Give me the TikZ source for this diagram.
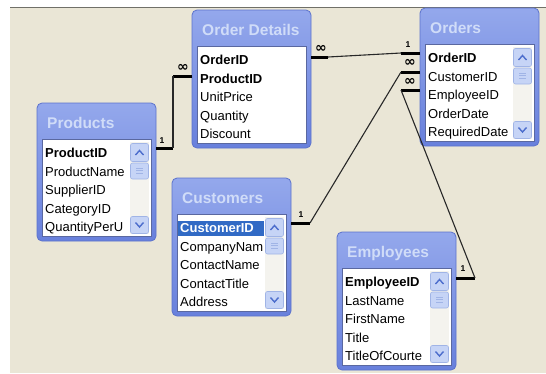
\documentclass[tikz,border=0pt]{standalone}
\usepackage{fontspec}
\usetikzlibrary{calc}
\setmainfont{Liberation Sans}
\newfontfamily\symfont{DejaVu Sans}
\definecolor{bgbeige}{RGB}{234,230,214}
\definecolor{topline}{RGB}{112,112,104}
\definecolor{boxtop}{RGB}{148,168,236}
\definecolor{boxbot}{RGB}{104,128,220}
\definecolor{boxedge}{RGB}{92,114,204}
\definecolor{listedge}{RGB}{90,104,160}
\definecolor{titletxt}{RGB}{208,220,248}
\definecolor{selblue}{RGB}{49,106,197}
\definecolor{sbbtnc}{RGB}{198,212,246}
\definecolor{sbedge}{RGB}{160,180,230}
\definecolor{sbtrackc}{RGB}{244,243,238}
\definecolor{chevc}{RGB}{77,110,205}
\definecolor{linegrey}{RGB}{40,40,40}
\tikzset{
  tblbox/.style={draw=boxedge, line width=0.8pt, rounded corners=5pt,
    top color=boxtop, bottom color=boxbot,
    minimum width=119pt, minimum height=138pt, inner sep=0pt},
  tbllist/.style={fill=white, draw=listedge, line width=0.8pt,
    minimum width=109pt, minimum height=97pt, inner sep=0pt},
  tbltitle/.style={text=titletxt, font=\fontsize{15.5}{17}\selectfont\bfseries,
    anchor=west, inner sep=0pt, text height=11.5pt, text depth=3.5pt},
  fld/.style={font=\fontsize{13}{15}\selectfont, anchor=west, inner sep=0pt,
    text=black, text height=9.5pt, text depth=3pt},
  keyfld/.style={fld, font=\fontsize{13}{15}\selectfont\bfseries},
  selfld/.style={keyfld, text=white},
  selbg/.style={fill=selblue, minimum width=86pt, minimum height=15pt, inner sep=0pt},
  sbtrack/.style={fill=sbtrackc, minimum width=19pt, minimum height=92pt, inner sep=0pt},
  sbbtn/.style={fill=sbbtnc, draw=sbedge, line width=0.6pt, rounded corners=2pt,
    minimum width=18pt, inner sep=0pt},
  chev/.style={draw=chevc, line width=1.4pt},
  grip/.style={draw=sbedge, line width=0.6pt},
  stub/.style={line width=3pt, draw=black},
  joinline/.style={line width=1.1pt, draw=linegrey},
  onelbl/.style={font=\fontsize{8.5}{8.5}\selectfont\bfseries, inner sep=0pt},
  manylbl/.style={font=\symfont\fontsize{14}{14}\selectfont\bfseries, inner sep=0pt},
}
\newcommand{\tableframe}[2]{%
  \node[tblbox] (#1) at (59.5,69) {};
  \node[tbltitle] (#1-title) at (10,21) {#2};
  \node[tbllist] (#1-list) at (59.5,84.5) {};
}
\newcommand{\fieldrow}[4]{%
  \node[#3] (#1-f#2) at (8,{51.5+18.5*(#2-1)}) {#4};
}
\newcommand{\scrollbar}[1]{%
  \node[sbtrack] (#1-track) at (102.5,85) {};
  \node[sbbtn, minimum height=18pt] (#1-up) at (102.5,49.5) {};
  \node[sbbtn, minimum height=16pt] (#1-thumb) at (102.5,68) {};
  \node[sbbtn, minimum height=17pt] (#1-down) at (102.5,122) {};
  \draw[chev] (98.5,52) -- (102.5,47.5) -- (106.5,52);
  \draw[chev] (98.5,119.5) -- (102.5,124) -- (106.5,119.5);
  \draw[grip] (99,65) -- (106,65) (99,67.5) -- (106,67.5) (99,70) -- (106,70);
}
\begin{document}
\begin{tikzpicture}[x=1pt,y=-1pt]
\useasboundingbox (0,0) rectangle (546,373);
\fill[white] (0,0) rectangle (546,373);
\fill[bgbeige] (10,7) rectangle (546,373);
\draw[topline, line width=1.5pt] (10,7.5) -- (546,7.5);

% Order Details
\begin{scope}[xshift=192pt, yshift=-10pt]
  \tableframe{od}{Order Details}
  \fieldrow{od}{1}{keyfld}{OrderID}
  \fieldrow{od}{2}{keyfld}{ProductID}
  \fieldrow{od}{3}{fld}{UnitPrice}
  \fieldrow{od}{4}{fld}{Quantity}
  \fieldrow{od}{5}{fld}{Discount}
  \coordinate (od-a) at (0,66);
  \coordinate (od-b) at (119,47);
\end{scope}

% Orders
\begin{scope}[xshift=420pt, yshift=-8pt]
  \tableframe{or}{Orders}
  \scrollbar{or}
  \fieldrow{or}{1}{keyfld}{OrderID}
  \fieldrow{or}{2}{fld}{CustomerID}
  \fieldrow{or}{3}{fld}{EmployeeID}
  \fieldrow{or}{4}{fld}{OrderDate}
  \fieldrow{or}{5}{fld}{RequiredDate}
  \coordinate (or-a) at (0,45);
  \coordinate (or-b) at (0,64);
  \coordinate (or-c) at (0,82);
\end{scope}

% Products
\begin{scope}[xshift=37pt, yshift=-103pt]
  \tableframe{pr}{Products}
  \scrollbar{pr}
  \fieldrow{pr}{1}{keyfld}{ProductID}
  \fieldrow{pr}{2}{fld}{ProductName}
  \fieldrow{pr}{3}{fld}{SupplierID}
  \fieldrow{pr}{4}{fld}{CategoryID}
  \fieldrow{pr}{5}{fld}{QuantityPerU}
  \coordinate (pr-a) at (119,45);
\end{scope}

% Customers
\begin{scope}[xshift=172pt, yshift=-178pt]
  \tableframe{cu}{Customers}
  \scrollbar{cu}
  \node[selbg] (cu-sel) at (49,50.5) {};
  \fieldrow{cu}{1}{selfld}{CustomerID}
  \fieldrow{cu}{2}{fld}{CompanyNam}
  \fieldrow{cu}{3}{fld}{ContactName}
  \fieldrow{cu}{4}{fld}{ContactTitle}
  \fieldrow{cu}{5}{fld}{Address}
  \coordinate (cu-a) at (119,45);
\end{scope}

% Employees
\begin{scope}[xshift=337pt, yshift=-232pt]
  \tableframe{em}{Employees}
  \scrollbar{em}
  \fieldrow{em}{1}{keyfld}{EmployeeID}
  \fieldrow{em}{2}{fld}{LastName}
  \fieldrow{em}{3}{fld}{FirstName}
  \fieldrow{em}{4}{fld}{Title}
  \fieldrow{em}{5}{fld}{TitleOfCourte}
  \coordinate (em-a) at (119,46);
\end{scope}

% Relationships
\draw[stub] (pr-a) -- ++(17,0) coordinate (j1a);
\draw[stub] (od-a) -- ++(-19,0) coordinate (j1b);
\draw[joinline] (j1a) -- (j1b);

\draw[stub] (od-b) -- ++(17,0) coordinate (j2a);
\draw[stub] (or-a) -- ++(-19,0) coordinate (j2b);
\draw[joinline] (j2a) -- (j2b);

\draw[stub] (or-b) -- ++(-19,0) coordinate (j3a);
\draw[stub] (cu-a) -- ++(19,0) coordinate (j3b);
\draw[joinline] (j3a) -- (j3b);

\draw[stub] (or-c) -- ++(-19,0) coordinate (j4a);
\draw[stub] (em-a) -- ++(19,0) coordinate (j4b);
\draw[joinline] (j4a) -- (j4b);

% Cardinality labels
\node[onelbl] (l1) at ($(pr-a)+(6,-7)$) {1};
\node[manylbl] (l2) at ($(od-a)+(-9,-8)$) {∞};
\node[manylbl] (l3) at ($(od-b)+(10,-8)$) {∞};
\node[onelbl] (l4) at ($(or-a)+(-12,-8)$) {1};
\node[manylbl] (l5) at ($(or-b)+(-10,-9)$) {∞};
\node[manylbl] (l6) at ($(or-c)+(-10,-8)$) {∞};
\node[onelbl] (l7) at ($(cu-a)+(10,-8)$) {1};
\node[onelbl] (l8) at ($(em-a)+(7,-9)$) {1};
\end{tikzpicture}
\end{document}
